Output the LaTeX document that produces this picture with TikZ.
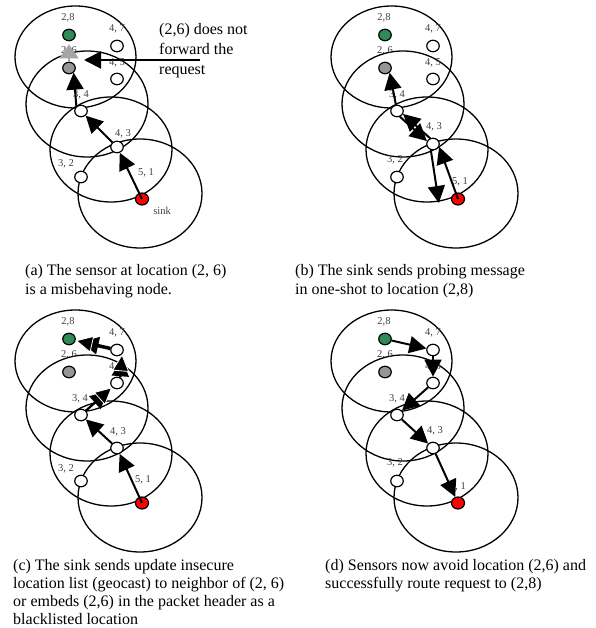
\documentclass[tikz,border=0pt]{standalone}
\usepackage{fontspec}
\setmainfont{Liberation Serif}
\usetikzlibrary{arrows.meta,shapes.geometric,calc}
\definecolor{nodegreen}{RGB}{46,139,87}
\definecolor{nodegrey}{RGB}{150,150,150}
\definecolor{labelgrey}{RGB}{64,64,64}
\definecolor{arrowgrey}{RGB}{165,165,165}
\tikzset{
  rangeell/.style={line width=1.3pt},
  sensornode/.style={ellipse, draw, line width=1.2pt, fill=white, minimum width=12.5pt, minimum height=11.5pt, inner sep=0pt},
  sgreen/.style={sensornode, fill=nodegreen},
  sgrey/.style={sensornode, fill=nodegrey},
  ssink/.style={sensornode, fill=red, minimum width=13pt, minimum height=12pt},
  lbl/.style={font=\fontsize{10.5}{12}\selectfont, text=labelgrey, inner sep=0pt},
  captxt/.style={font=\fontsize{16}{18}\selectfont, anchor=base west, inner sep=0pt},
  arr/.style={line width=2pt, -{Triangle[length=17pt,width=17pt]}},
  arrw/.style={line width=2pt, -{Triangle[length=17pt,width=17pt,color=white,fill=black,line width=0.8pt]}},
  garr/.style={line width=2pt, draw=arrowgrey, -{Triangle[length=14pt,width=19pt]}},
}
\newcommand{\rangecircles}{%
  \draw[rangeell] (75.5,57) ellipse [x radius=60.5pt, y radius=51pt];
  \draw[rangeell] (87,104) ellipse [x radius=61pt, y radius=53pt];
  \draw[rangeell] (111,149.5) ellipse [x radius=61pt, y radius=52.5pt];
  \draw[rangeell] (140,193.5) ellipse [x radius=62pt, y radius=54.5pt];
}
\newcommand{\sensorset}[2]{%
  \node[sgreen] (#128) at (69,35) {};
  \node[sensornode] (#147) at (117,46) {};
  \node[sgrey] (#126) at (69,68) {};
  \node[sensornode] (#145) at (117,79) {};
  \node[sensornode] (#134) at (81,111) {};
  \node[sensornode] (#143) at (117,#2) {};
  \node[sensornode] (#132) at (81,177) {};
  \node[ssink] (#151) at (142,199) {};
}
\begin{document}
\begin{tikzpicture}[x=1pt,y=-1pt]
\useasboundingbox (0,0) rectangle (595,628);

% ---------------- panel (a)
\begin{scope}
  \rangecircles
  \node[lbl] (la28) at (68,18) {2,8};
  \node[lbl] (la47) at (117,29) {4, 7};
  \node[lbl] (la26) at (69,51) {2, 6};
  \node[lbl] (la45) at (117,63) {4, 5};
  \node[lbl] (la34) at (81,95) {3, 4};
  \node[lbl] (la43) at (123,134) {4, 3};
  \node[lbl] (la32) at (66,164) {3, 2};
  \node[lbl] (la51) at (146,173) {5, 1};
  \node[lbl] (lasink) at (162,211) {sink};
  \sensorset{a}{147}
  \draw[arr] (a51.center) -- (a43);
  \draw[arr] (a43) -- (a34);
  \draw[arr] (a34.135) -- (a26.-45);
  \draw[garr, shorten >=3pt] (a26) -- (a28);
  \node[captxt] (ct1) at (159,35) {(2,6) does not};
  \node[captxt] (ct2) at (159,55) {forward the};
  \node[captxt] (ct3) at (159,75) {request};
  \coordinate (cs) at (200,60);
  \coordinate (ce) at (84,60);
  \draw[arr] (cs) -- (ce);
\end{scope}

% ---------------- panel (b)
\begin{scope}[shift={(316,0)}]
  \rangecircles
  \node[lbl] (lb28) at (68,18) {2,8};
  \node[lbl] (lb47) at (117,29) {4, 7};
  \node[lbl] (lb26) at (69,51) {2, 6};
  \node[lbl] (lb45) at (117,63) {4, 5};
  \node[lbl] (lb34) at (81,95) {3, 4};
  \node[lbl] (lb43) at (118,127) {4, 3};
  \node[lbl] (lb32) at (79,160) {3, 2};
  \node[lbl] (lb51) at (144,182) {5, 1};
  \sensorset{b}{144}
  \draw[arr] (b51.center) -- (b43.-25);
  \draw[arr] (b43.-110) -- ([shift={(-12,4)}]b51.west);
  \draw[arr] (b34.-63) -- (b43.154);
  \draw[arr] (b43.117) -- (b34.-26);
  \draw[arr] (b34.100) -- (b26.-45);
\end{scope}

% ---------------- panel (c)
\begin{scope}[shift={(0,304)}]
  \rangecircles
  \node[lbl] (lc28) at (68,18) {2,8};
  \node[lbl] (lc47) at (117,29) {4, 7};
  \node[lbl] (lc26) at (69,51) {2, 6};
  \node[lbl] (lc45) at (117,63) {4, 5};
  \node[lbl] (lc34) at (80,95) {3, 4};
  \node[lbl] (lc43) at (118,128) {4, 3};
  \node[lbl] (lc32) at (66,165) {3, 2};
  \node[lbl] (lc51) at (143,176) {5, 1};
  \sensorset{c}{144}
  \draw[arr] (c51.center) -- (c43);
  \draw[arr] (c43) -- (c34);
  \draw[arr, shorten >=6pt] (c34) -- (c45);
  \draw[arrw] (c34) -- (c45);
  \draw[arr, shorten >=5pt] (c45.60) -- (c47.-40);
  \draw[arrw] (c45.60) -- (c47.-40);
  \draw[arr, line width=3.5pt, shorten >=6pt] (c47) -- (c28);
  \draw[arrw] (c47) -- (c28);
\end{scope}

% ---------------- panel (d)
\begin{scope}[shift={(316,304)}]
  \rangecircles
  \node[lbl] (ld28) at (68,18) {2,8};
  \node[lbl] (ld47) at (117,29) {4, 7};
  \node[lbl] (ld26) at (69,51) {2, 6};
  \node[lbl] (ld45) at (117,63) {4, 5};
  \node[lbl] (ld34) at (81,95) {3, 4};
  \node[lbl] (ld43) at (119,127) {4, 3};
  \node[lbl] (ld32) at (79,159) {3, 2};
  \node[lbl] (ld51) at (142,183) {5, 1};
  \sensorset{d}{144}
  \draw[arr] (d28) -- (d47);
  \draw[arr] (d47) -- (d45);
  \draw[arr] (d45) -- (d34);
  \draw[arr] (d34) -- (d43);
  \draw[arr] (d43) -- (d51);
\end{scope}

% ---------------- captions
\node[captxt] (capa1) at (25,275) {(a) The sensor at location (2, 6)};
\node[captxt] (capa2) at (25,294) {is a misbehaving node.};
\node[captxt] (capb1) at (295,275) {(b) The sink sends probing message};
\node[captxt] (capb2) at (295,294) {in one-shot to location (2,8)};
\node[captxt] (capc1) at (13,570) {(c) The sink sends update insecure};
\node[captxt] (capc2) at (13,588) {location list (geocast) to neighbor of (2, 6)};
\node[captxt] (capc3) at (13,606) {or embeds (2,6) in the packet header as a};
\node[captxt] (capc4) at (13,624) {blacklisted location};
\node[captxt] (capd1) at (325,570) {(d) Sensors now avoid location (2,6) and};
\node[captxt] (capd2) at (325,588) {successfully route request to (2,8)};
\end{tikzpicture}
\end{document}
